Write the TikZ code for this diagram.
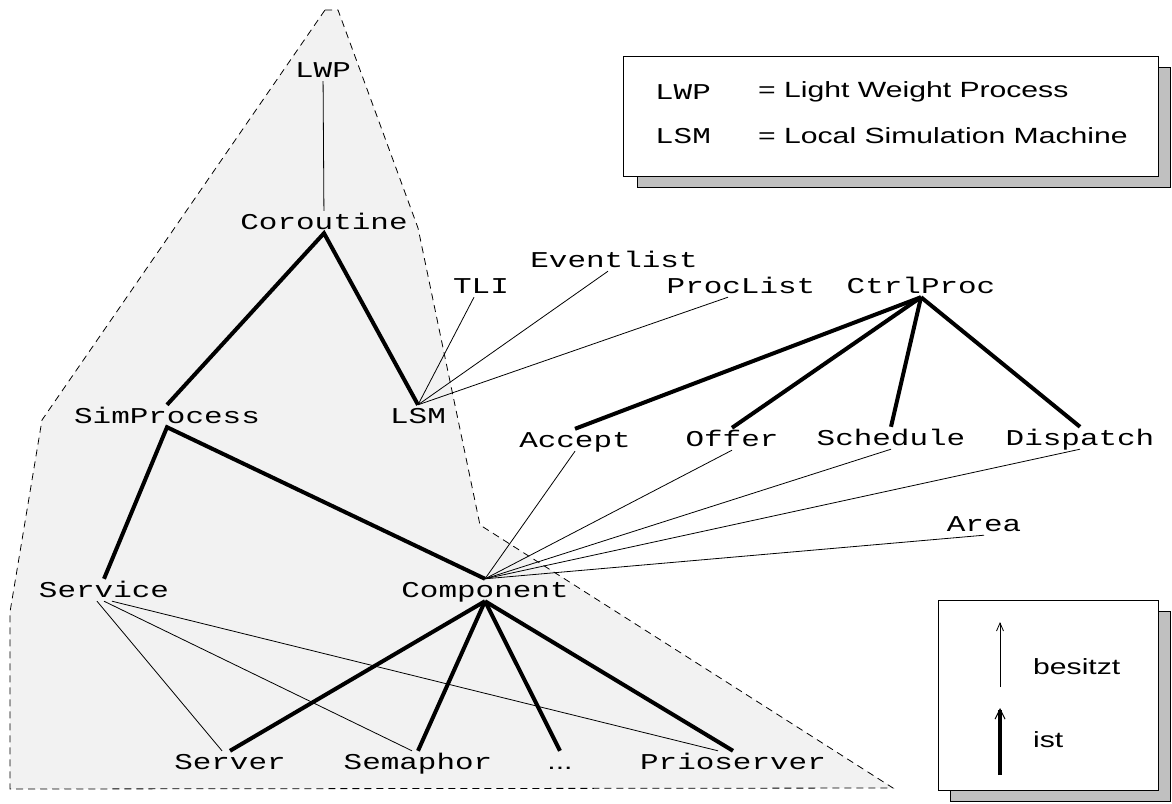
\documentclass[tikz,border=0pt]{standalone}
\usepackage{fontspec}
\newfontfamily\diagmono[FakeStretch=1.37]{Liberation Mono}
\newfontfamily\diagsans[FakeStretch=1.37]{Liberation Sans}
\usetikzlibrary{arrows.meta}
\definecolor{areagray}{HTML}{F2F2F2}
\definecolor{shadowgray}{HTML}{C0C0C0}
\tikzstyle{cls} = [inner xsep=0pt, inner ysep=4pt, text height=14pt, text depth=0pt, font=\diagmono\fontsize{22.6}{26}\selectfont]
\tikzstyle{legend} = [anchor=west, inner sep=0pt, font=\diagsans\fontsize{22}{26}\selectfont]
\tikzstyle{isa} = [line width=4pt]
\tikzstyle{has} = [line width=0.8pt]

\begin{document}
\begin{tikzpicture}[x=1pt, y=-1pt]
    \useasboundingbox (0,0) rectangle (1172,803);
    % shaded area
    \draw [fill=areagray, line width=0.8pt, dash pattern=on 7pt off 5pt] (325,10) -- (338,10) -- (418,228) -- (480,525) -- (893,788) -- (10,789) -- (10,612) -- (42,420) -- cycle;

    \node (lwp) [cls] at (323,70) {LWP};
    \node (coroutine) [cls] at (324,222) {Coroutine};
    \node (simprocess) [cls] at (167,416) {SimProcess};
    \node (lsm) [cls] at (418,416) {LSM};
    \node (tli) [cls] at (481,286) {TLI};
    \node (eventlist) [cls] at (614,260) {Eventlist};
    \node (proclist) [cls] at (741,286) {ProcList};
    \node (ctrlproc) [cls] at (921,286) {CtrlProc};
    \node (accept) [cls] at (575,440) {Accept};
    \node (offer) [cls] at (732,439) {Offer};
    \node (schedule) [cls] at (891,438) {Schedule};
    \node (dispatch) [cls] at (1080,438) {Dispatch};
    \node (area) [cls] at (984,524) {Area};
    \node (service) [cls] at (104,590) {Service};
    \node (component) [cls] at (485,590) {Component};
    \node (server) [cls] at (230,762) {Server};
    \node (semaphor) [cls] at (418,762) {Semaphor};
    \node (dots) [cls] at (560,762) {\diagsans\fontsize{22}{26}\selectfont ...};
    \node (prioserver) [cls] at (733,762) {Prioserver};

    % ist
    \draw [isa] (simprocess.north) -- (coroutine.south) -- (lsm.north);
    \draw [isa] (service.north) -- (simprocess.south) -- (component.north);
    \draw [isa] (ctrlproc.south) -- (accept.north);
    \draw [isa] (ctrlproc.south) -- (offer.north);
    \draw [isa] (ctrlproc.south) -- (schedule.north);
    \draw [isa] (ctrlproc.south) -- (dispatch.north);
    \draw [isa] (component.south) -- (server.north);
    \draw [isa] (component.south) -- (semaphor.north);
    \draw [isa] (component.south) -- (dots.north);
    \draw [isa] (component.south) -- (prioserver.north);

    % besitzt
    \draw [has] (lwp) -- (coroutine);
    \draw [has] (lsm.north) -- ([xshift=-7pt]tli.south);
    \draw [has] (lsm.north) -- ([xshift=-6pt]eventlist.south);
    \draw [has] (lsm.north) -- ([xshift=-13pt]proclist.south);
    \draw [has] (component.north) -- (accept.south);
    \draw [has] (component.north) -- (offer.south);
    \draw [has] (component.north) -- (schedule.south);
    \draw [has] (component.north) -- (dispatch.south);
    \draw [has] (component.north) -- (area.south);
    \draw [has] ([xshift=-7pt]service.south) -- ([xshift=-8pt]server.north);
    \draw [has] (service.south) -- ([xshift=-6pt]semaphor.north);
    \draw [has] ([xshift=8pt]service.south) -- ([xshift=-15pt]prioserver.north);

    % legend: names
    \draw [fill=shadowgray] (637,67) rectangle (1170,187);
    \draw [fill=white] (623,56) rectangle (1158,176);
    \node (lwpkey) [cls] at (683,92) {LWP};
    \node (lwptext) [legend] at (758,92) {= Light Weight Process};
    \node (lsmkey) [cls] at (683,136) {LSM};
    \node (lsmtext) [legend] at (758,136) {= Local Simulation Machine};

    % legend: arrows
    \draw [fill=shadowgray] (950,611) rectangle (1170,801);
    \draw [fill=white] (938,600) rectangle (1158,790);
    \coordinate (hasfoot) at (1000,687);
    \coordinate (hashead) at (1000,622);
    \coordinate (isafoot) at (1000,775);
    \coordinate (isahead) at (1000,708);
    \draw [has, -{Straight Barb[length=8pt, width=7pt]}] (hasfoot) -- (hashead);
    \draw [isa, -{Straight Barb[line width=1pt, length=10pt, width=10pt]}] (isafoot) -- (isahead);
    \node (haslabel) [legend] at (1033,667) {besitzt};
    \node (isalabel) [legend] at (1033,740) {ist};
\end{tikzpicture}
\end{document}
